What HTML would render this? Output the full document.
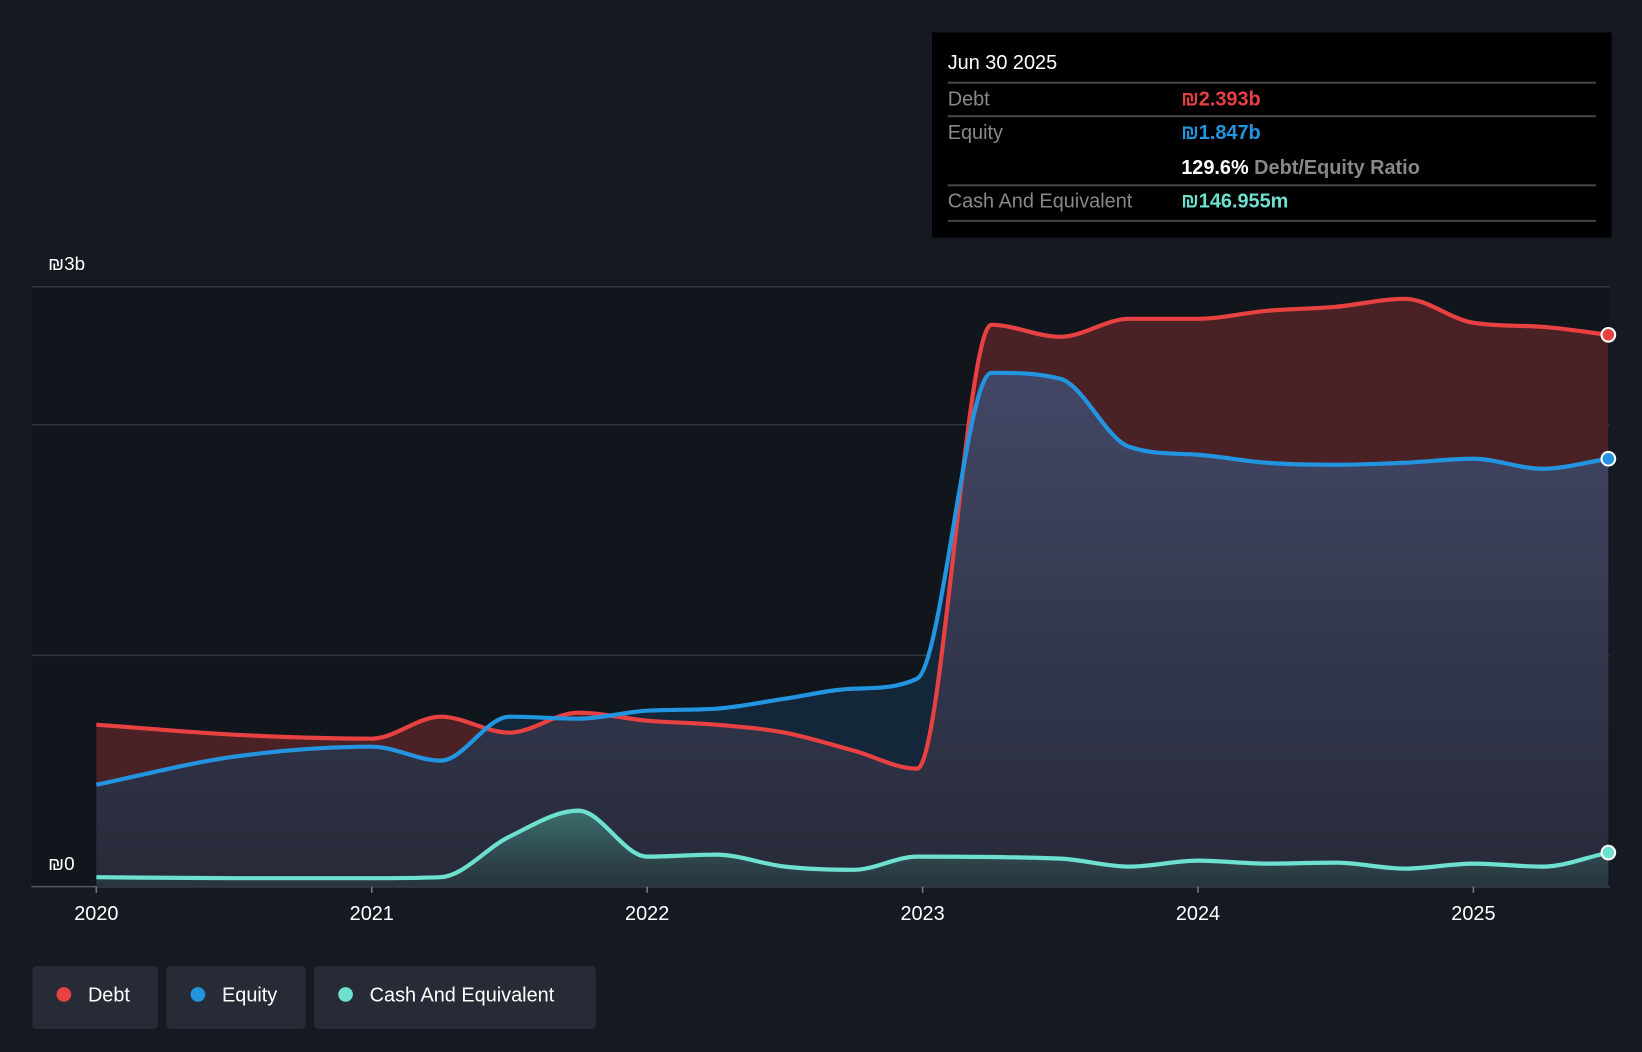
<!DOCTYPE html>
<html><head><meta charset="utf-8">
<style>
html,body{margin:0;padding:0;background:#151a22;}
svg{display:block;font-family:"Liberation Sans",sans-serif;}
</style></head>
<body>
<svg id="chart" width="1642" height="1052" viewBox="0 0 1568 1005" preserveAspectRatio="none" xmlns="http://www.w3.org/2000/svg">
<defs>
<linearGradient id="eqG" x1="0" y1="0" x2="0" y2="1">
<stop offset="0" stop-color="#434766"/><stop offset="1" stop-color="#262a38"/></linearGradient>
<linearGradient id="cashG" x1="0" y1="0" x2="0" y2="1">
<stop offset="0" stop-color="#3f7f78" stop-opacity="0.8"/><stop offset="1" stop-color="#2a3a40" stop-opacity="0.6"/></linearGradient>
<clipPath id="debtClip"><path id="debtClipPath" d=""/></clipPath>
</defs>
<rect x="0" y="0" width="1568" height="1005" fill="#151a22"/>
<rect x="30" y="274" width="1507" height="573" fill="#11151c"/>
<g id="grid"></g>
<g id="areas"></g>
<g id="lines"></g>
<g id="xaxis"></g>
<text x="46" y="258" fill="#fff" font-size="18">₪3b</text>
<text x="46" y="831" fill="#fff" font-size="18">₪0</text>

<g>
<rect x="890" y="31" width="649" height="196" fill="#000"/>
<text x="905" y="66" fill="#fff" font-size="19">Jun 30 2025</text>
<line x1="905" y1="79" x2="1524" y2="79" stroke="#444" stroke-width="2"/>
<text x="905" y="101" fill="#888" font-size="19">Debt</text>
<text x="1128" y="101" fill="#e84142" font-size="19" font-weight="bold">₪2.393b</text>
<line x1="905" y1="111" x2="1524" y2="111" stroke="#444" stroke-width="2"/>
<text x="905" y="133" fill="#888" font-size="19">Equity</text>
<text x="1128" y="133" fill="#2394df" font-size="19" font-weight="bold">₪1.847b</text>
<text x="1128" y="166" fill="#fff" font-size="19" font-weight="bold">129.6% <tspan fill="#888">Debt/Equity Ratio</tspan></text>
<line x1="905" y1="177" x2="1524" y2="177" stroke="#444" stroke-width="2"/>
<text x="905" y="198" fill="#888" font-size="19">Cash And Equivalent</text>
<text x="1128" y="198" fill="#6de0cf" font-size="19" font-weight="bold">₪146.955m</text>
<line x1="905" y1="211" x2="1524" y2="211" stroke="#444" stroke-width="2"/>
</g>

<g>
<g><rect x="31" y="923" width="120" height="60" rx="4" fill="#262b35"/><circle cx="61" cy="950" r="7" fill="#e84142"/><text x="84" y="957" fill="#fff" font-size="19">Debt</text></g>
<g><rect x="159" y="923" width="133" height="60" rx="4" fill="#262b35"/><circle cx="189" cy="950" r="7" fill="#2394df"/><text x="212" y="957" fill="#fff" font-size="19">Equity</text></g>
<g><rect x="300" y="923" width="269" height="60" rx="4" fill="#262b35"/><circle cx="330" cy="950" r="7" fill="#6de0cf"/><text x="353" y="957" fill="#fff" font-size="19">Cash And Equivalent</text></g>
</g>
</svg>
<script>
const years = [2020,2021,2022,2023,2024,2025];
const debtT = [2020,2020.5,2021,2021.25,2021.5,2021.75,2022,2022.25,2022.5,2022.75,2022.98,2023.25,2023.5,2023.75,2024,2024.25,2024.5,2024.75,2025,2025.25,2025.49];
const debtV = [0.81,0.76,0.74,0.85,0.77,0.87,0.83,0.81,0.77,0.68,0.59,2.81,2.75,2.84,2.84,2.88,2.90,2.94,2.82,2.80,2.76];
const equityT = [2020,2020.5,2021,2021.25,2021.5,2021.75,2022,2022.25,2022.5,2022.75,2022.98,2023.25,2023.5,2023.75,2024,2024.25,2024.5,2024.75,2025,2025.25,2025.49];
const equityV = [0.51,0.65,0.70,0.63,0.85,0.84,0.88,0.89,0.94,0.99,1.04,2.57,2.54,2.20,2.16,2.12,2.11,2.12,2.14,2.09,2.14];
const cashT = [2020,2020.5,2021,2021.25,2021.5,2021.75,2022,2022.25,2022.5,2022.75,2022.98,2023.5,2023.75,2024,2024.25,2024.5,2024.75,2025,2025.25,2025.49];
const cashV = [0.047,0.042,0.042,0.047,0.25,0.38,0.15,0.16,0.10,0.084,0.15,0.14,0.10,0.13,0.115,0.12,0.09,0.115,0.10,0.17];
const gridVals = [1.157,2.31,3];

const X = t => 92 + (t-2020)*263;
const Y = v => 847 - v*191;
const NS = "http://www.w3.org/2000/svg";
function mk(tag, attrs, parent){const e=document.createElementNS(NS,tag);for(const k in attrs)e.setAttribute(k,attrs[k]);parent.appendChild(e);return e;}

function monoPath(xs, ys){
  const n=xs.length, d=[], m=[];
  for(let i=0;i<n-1;i++) d.push((ys[i+1]-ys[i])/(xs[i+1]-xs[i]));
  m[0]=d[0]; m[n-1]=d[n-2];
  for(let i=1;i<n-1;i++){ m[i]= (d[i-1]*d[i]<=0)?0:(d[i-1]+d[i])/2; }
  for(let i=0;i<n-1;i++){ if(d[i]===0){m[i]=0;m[i+1]=0;continue;}
    const a=m[i]/d[i], b=m[i+1]/d[i], s=a*a+b*b;
    if(s>9){const t=3/Math.sqrt(s); m[i]=t*a*d[i]; m[i+1]=t*b*d[i];} }
  let p="M"+xs[0]+","+ys[0];
  for(let i=0;i<n-1;i++){const h=(xs[i+1]-xs[i])/3;
    p+=" C"+(xs[i]+h)+","+(ys[i]+m[i]*h)+" "+(xs[i+1]-h)+","+(ys[i+1]-m[i+1]*h)+" "+xs[i+1]+","+ys[i+1];}
  return p;
}
function areaPath(T,V){const xs=T.map(X),ys=V.map(Y);return monoPath(xs,ys)+" L"+xs[xs.length-1]+",847 L"+xs[0]+",847 Z";}

const grid=document.getElementById('grid');
gridVals.forEach(v=>{const l=mk('line',{x1:30,x2:1537,y1:Y(v),y2:Y(v),stroke:'#2f343d','stroke-width':1.5},grid);

});
const base=mk('line',{x1:30,x2:1537,y1:847,y2:847,stroke:'#555a63','stroke-width':1.5},grid);



const areas=document.getElementById('areas'), lines=document.getElementById('lines');
document.getElementById('debtClipPath').setAttribute('d',areaPath(debtT,debtV));

const eqNavy=mk('path',{d:areaPath(equityT,equityV),fill:'#13263a'},areas);


const debtA=mk('path',{d:areaPath(debtT,debtV),fill:'#4a2226'},areas);


const eqA=mk('path',{d:areaPath(equityT,equityV),fill:'url(#eqG)','clip-path':'url(#debtClip)'},areas);


const cashA=mk('path',{d:areaPath(cashT,cashV),fill:'url(#cashG)'},areas);



function series(T,V,color,name){
  const xs=T.map(X), ys=V.map(Y), p=monoPath(xs,ys);
  const l=mk('path',{d:p,fill:'none',stroke:color,'stroke-width':4,'stroke-linejoin':'round'},lines);
  
  
  const c=mk('circle',{cx:xs[xs.length-1],cy:ys[ys.length-1],r:6.5,fill:color,stroke:'#fff','stroke-width':2},lines);
  
  
}
series(debtT,debtV,'#e84142','debt');
series(equityT,equityV,'#2394df','equity');
series(cashT,cashV,'#6de0cf','cash');

const xa=document.getElementById('xaxis');
years.forEach(y=>{
  const t=mk('line',{x1:X(y),x2:X(y),y1:847,y2:853,stroke:'#777','stroke-width':1.5},xa);
  
  
  const tx=mk('text',{x:X(y),y:879,fill:'#fff','font-size':19,'text-anchor':'middle'},xa);
  tx.textContent=y;
  
  
});
</script>
</body></html>
